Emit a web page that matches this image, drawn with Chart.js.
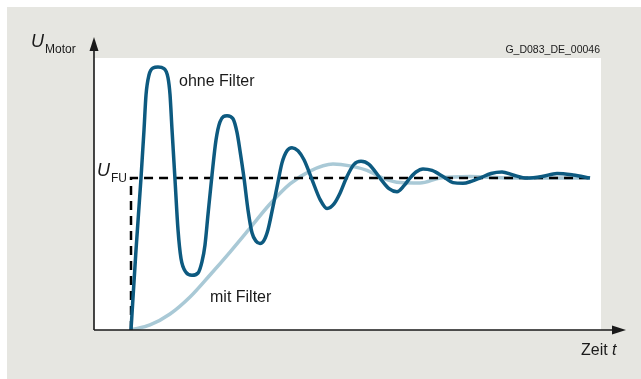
<!DOCTYPE html>
<html>
<head>
<meta charset="utf-8">
<script src="https://cdn.jsdelivr.net/npm/chart.js@4"></script>
<style>
  html, body { margin: 0; padding: 0; background: #ffffff; }
  #wrap { width: 641px; height: 379px; }
</style>
</head>
<body>
<div id="wrap"><canvas id="motor-chart" width="641" height="379"></canvas></div>
<script>
// time axis (t) and motor voltage in units of U_FU
const ohneT = [0, 0.10, 0.20, 0.26, 0.30, 0.36, 0.44, 0.54, 0.66, 0.74, 0.78, 0.82, 0.88, 0.94, 1.00, 1.10, 1.22, 1.34, 1.42, 1.48, 1.54, 1.62, 1.70, 1.78, 1.92, 2.04, 2.12, 2.18, 2.26, 2.34, 2.42, 2.50, 2.58, 2.66, 2.74, 2.82, 2.92, 3.02, 3.12, 3.22, 3.34, 3.46, 3.62, 3.78, 3.92, 4.06, 4.18, 4.32, 4.46, 4.60, 4.76, 4.98, 5.16, 5.32, 5.46, 5.58, 5.70, 5.84, 6.02, 6.24, 6.44, 6.64, 6.82, 6.98, 7.20, 7.42, 7.64, 7.92, 8.22, 8.52, 8.84, 9.18];
const ohneU = [0, 0.526, 1.00, 1.316, 1.546, 1.678, 1.724, 1.73, 1.72, 1.66, 1.55, 1.32, 0.99, 0.66, 0.47, 0.38, 0.36, 0.375, 0.45, 0.56, 0.76, 1.02, 1.25, 1.37, 1.41, 1.39, 1.30, 1.18, 1.00, 0.79, 0.64, 0.585, 0.57, 0.59, 0.66, 0.78, 0.94, 1.10, 1.18, 1.20, 1.18, 1.12, 0.99, 0.86, 0.80, 0.83, 0.90, 1.01, 1.09, 1.11, 1.09, 1.00, 0.93, 0.91, 0.95, 1.00, 1.04, 1.06, 1.05, 1.01, 0.97, 0.965, 0.98, 1.00, 1.03, 1.04, 1.02, 1.00, 1.01, 1.03, 1.02, 1.00];

const mitT = [0, 0.38, 0.78, 1.18, 1.58, 1.98, 2.38, 2.78, 3.18, 3.58, 4.04, 4.38, 4.72, 5.04, 5.38, 5.78, 6.18, 6.78, 7.58, 9.18];
const mitU = [0, 0.033, 0.105, 0.217, 0.362, 0.513, 0.671, 0.829, 0.961, 1.046, 1.092, 1.08, 1.05, 1.00, 0.97, 0.967, 1.00, 1.01, 1.00, 1.00];

const fuT = [0, 0, 9.18];
const fuU = [0, 1, 1];

const tMin = -0.74;
const tMax = 9.4;
const uMax = 1.79;

function toPoints(xs, ys) {
    return xs.map((x, i) => ({ x: x, y: ys[i] }));
}

const FONT = '"Liberation Sans", Arial, Helvetica, sans-serif';

function arrowHead(ctx, x, y, dir) {
    ctx.beginPath();
    if (dir === 'up') {
        ctx.moveTo(x, y);
        ctx.lineTo(x - 4.5, y + 14);
        ctx.lineTo(x + 4.5, y + 14);
    } else {
        ctx.moveTo(x, y);
        ctx.lineTo(x - 14, y - 4.5);
        ctx.lineTo(x - 14, y + 4.5);
    }
    ctx.closePath();
    ctx.fill();
}

const framePlugin = {
    id: 'frame',
    beforeDraw(chart) {
        const ctx = chart.ctx;
        const a = chart.chartArea;
        ctx.save();
        ctx.fillStyle = '#e6e6e1';
        ctx.fillRect(7, 7, chart.width - 7, chart.height - 7);
        ctx.fillStyle = '#ffffff';
        ctx.fillRect(a.left, a.top, a.right - a.left, a.bottom - a.top);
        ctx.restore();
    },
    afterDraw(chart) {
        const ctx = chart.ctx;
        const x0 = chart.scales.x.getPixelForValue(tMin);
        const y0 = chart.scales.y.getPixelForValue(0);
        ctx.save();
        // axes with arrows
        ctx.strokeStyle = '#1a1a1a';
        ctx.fillStyle = '#1a1a1a';
        ctx.lineWidth = 1.6;
        ctx.beginPath();
        ctx.moveTo(x0, y0);
        ctx.lineTo(x0, 44);
        ctx.moveTo(x0, y0);
        ctx.lineTo(618, y0);
        ctx.stroke();
        arrowHead(ctx, x0, 37, 'up');
        arrowHead(ctx, 626, y0, 'right');

        ctx.textBaseline = 'alphabetic';
        // U_Motor
        ctx.font = 'italic 18px ' + FONT;
        ctx.fillText('U', 31, 47);
        ctx.font = '12px ' + FONT;
        ctx.fillText('Motor', 45, 53);
        // U_FU
        ctx.font = 'italic 18px ' + FONT;
        ctx.fillText('U', 97, 176);
        ctx.font = '12px ' + FONT;
        ctx.fillText('FU', 111, 182);
        // curve labels
        ctx.font = '16px ' + FONT;
        ctx.fillText('ohne Filter', 179, 86);
        ctx.fillText('mit Filter', 210, 302);
        // x axis label
        ctx.fillText('Zeit ', 581, 355);
        const w = ctx.measureText('Zeit ').width;
        ctx.font = 'italic 16px ' + FONT;
        ctx.fillText('t', 581 + w, 355);
        // drawing id
        ctx.font = '10.5px ' + FONT;
        ctx.textAlign = 'right';
        ctx.fillText('G_D083_DE_00046', 600, 53);
        ctx.restore();
    }
};

const motorChartCanvas = document.getElementById('motor-chart');
const motorChart = new Chart(motorChartCanvas, {
    type: 'line',
    data: {
        datasets: [
            {
                label: 'mit Filter',
                data: toPoints(mitT, mitU),
                borderColor: '#a9c9d6',
                borderWidth: 3.5,
                pointRadius: 0,
                cubicInterpolationMode: 'monotone',
                fill: false,
                order: 3
            },
            {
                label: 'U_FU',
                data: toPoints(fuT, fuU),
                borderColor: '#000000',
                borderWidth: 2.5,
                borderDash: [9, 6],
                pointRadius: 0,
                tension: 0,
                fill: false,
                order: 2
            },
            {
                label: 'ohne Filter',
                data: toPoints(ohneT, ohneU),
                borderColor: '#0d5a80',
                borderWidth: 3.5,
                pointRadius: 0,
                cubicInterpolationMode: 'monotone',
                fill: false,
                order: 1
            }
        ]
    },
    options: {
        responsive: false,
        animation: false,
        layout: { padding: { left: 94, right: 40, top: 58, bottom: 49 } },
        scales: {
            x: { type: 'linear', min: tMin, max: tMax, display: false },
            y: { type: 'linear', min: 0, max: uMax, display: false }
        },
        plugins: {
            legend: { display: false },
            tooltip: { enabled: false }
        }
    },
    plugins: [framePlugin]
});
</script>
</body>
</html>
